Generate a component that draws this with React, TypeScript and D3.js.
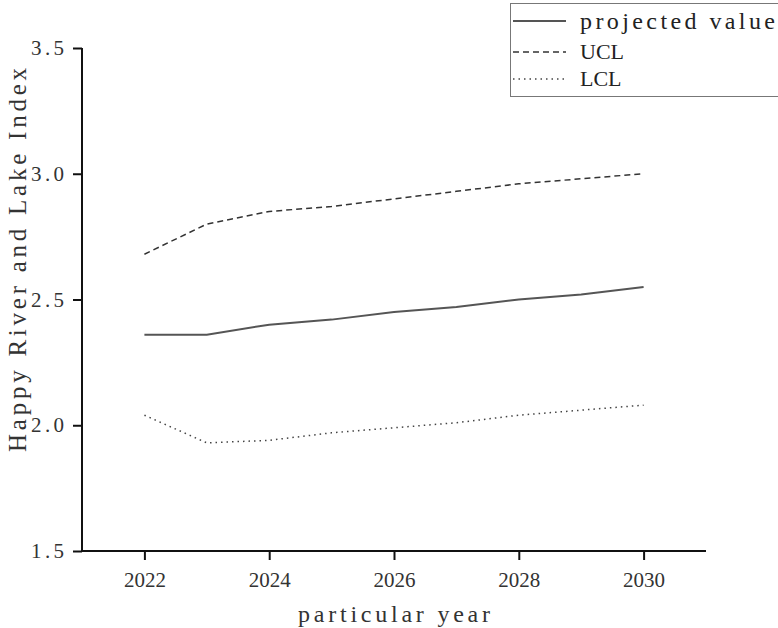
import React from 'react';
import * as d3 from 'd3';

const years = [2022, 2023, 2024, 2025, 2026, 2027, 2028, 2029, 2030];
const projected = [2.36, 2.36, 2.40, 2.42, 2.45, 2.47, 2.50, 2.52, 2.55];
const ucl = [2.68, 2.80, 2.85, 2.87, 2.90, 2.93, 2.96, 2.98, 3.00];
const lcl = [2.04, 1.93, 1.94, 1.97, 1.99, 2.01, 2.04, 2.06, 2.08];
const yMajor = [1.5, 2.0, 2.5, 3.0, 3.5];
const yMinor = [1.75, 2.25, 2.75, 3.25];
const xMajor = [2022, 2024, 2026, 2028, 2030];
const xMinor = [2021, 2023, 2025, 2027, 2029, 2031];
const seriesNames = ['projected value', 'UCL', 'LCL'];

const serif = '"Liberation Serif", "DejaVu Serif", serif';

const W = 778, H = 628;

const App = () => {
  const ref = React.useRef<SVGSVGElement>(null);

  React.useEffect(() => {
    const svg = d3.select(ref.current);
    svg.selectAll('*').remove();

    const x = d3.scaleLinear().domain([2021, 2031]).range([82, 706]);
    const y = d3.scaleLinear().domain([1.5, 3.5]).range([551, 48]);

    // y axis
    const gy = svg.append('g').attr('transform', `translate(${x(2021)},0)`);
    gy.call(d3.axisLeft(y).tickValues(yMinor).tickSize(5).tickFormat(() => ''));
    gy.call(d3.axisLeft(y).tickValues(yMajor).tickSize(9).tickPadding(9).tickFormat(d3.format('.1f')));
    gy.selectAll('.domain').attr('d', `M0,${y(1.5)}V${y(3.5)}`);
    gy.selectAll('path, line').attr('stroke', '#111').attr('stroke-width', 2);
    gy.selectAll('text')
      .attr('font-family', serif).attr('font-size', 21).attr('fill', '#333')
      .attr('textLength', (d: any) => (d3.format('.1f')(d) ? 33 : 0))
      .attr('lengthAdjust', 'spacing');

    // x axis
    const gx = svg.append('g').attr('transform', `translate(0,${y(1.5)})`);
    gx.call(d3.axisBottom(x).tickValues(xMinor).tickSize(5).tickFormat(() => ''));
    gx.call(d3.axisBottom(x).tickValues(xMajor).tickSize(9).tickPadding(12).tickFormat(d3.format('d')));
    gx.selectAll('.domain').attr('d', `M${x(2021)},0H${x(2031)}`);
    gx.selectAll('path, line').attr('stroke', '#111').attr('stroke-width', 2);
    gx.selectAll('text')
      .attr('font-family', serif).attr('font-size', 21).attr('fill', '#333');

    // axis titles
    svg.append('text')
      .attr('x', 394).attr('y', 622)
      .attr('text-anchor', 'middle')
      .attr('font-family', serif).attr('font-size', 24).attr('fill', '#333')
      .attr('textLength', 192).attr('lengthAdjust', 'spacing')
      .text('particular year');
    svg.append('text')
      .attr('transform', 'translate(26,260) rotate(-90)')
      .attr('text-anchor', 'middle')
      .attr('font-family', serif).attr('font-size', 25).attr('fill', '#333')
      .attr('textLength', 384).attr('lengthAdjust', 'spacing')
      .text('Happy River and Lake Index');

    const line = d3.line<number>().x((_, i) => x(years[i])).y(d => y(d));
    const styles = [
      { data: projected, stroke: '#555', width: 2, dash: null },
      { data: ucl, stroke: '#333', width: 1.5, dash: '6,4' },
      { data: lcl, stroke: '#444', width: 1.5, dash: '1.5,4' },
    ];
    styles.forEach(s => {
      svg.append('path')
        .attr('d', line(s.data))
        .attr('fill', 'none')
        .attr('stroke', s.stroke)
        .attr('stroke-width', s.width)
        .attr('stroke-dasharray', s.dash);
    });

    // legend
    const lg = svg.append('g');
    lg.append('rect')
      .attr('x', 510.5).attr('y', 3.5).attr('width', 300).attr('height', 93)
      .attr('fill', 'white').attr('stroke', '#777').attr('stroke-width', 1);
    const lineYs = [21, 52, 79];
    const textYs = [28.5, 58.5, 85.5];
    seriesNames.forEach((name, i) => {
      lg.append('line')
        .attr('x1', 513).attr('x2', 566)
        .attr('y1', lineYs[i]).attr('y2', lineYs[i])
        .attr('stroke', styles[i].stroke)
        .attr('stroke-width', styles[i].width)
        .attr('stroke-dasharray', styles[i].dash);
      const t = lg.append('text')
        .attr('x', 580).attr('y', textYs[i])
        .attr('font-family', serif)
        .attr('font-size', i === 0 ? 24 : 22)
        .attr('fill', '#222')
        .text(name);
      if (i === 0) t.attr('textLength', 195).attr('lengthAdjust', 'spacing');
    });
  }, []);

  return (
    <svg ref={ref} width={W} height={H}
      style={{ position: 'absolute', left: 0, top: 0, background: 'white' }} />
  );
};

export default App;
